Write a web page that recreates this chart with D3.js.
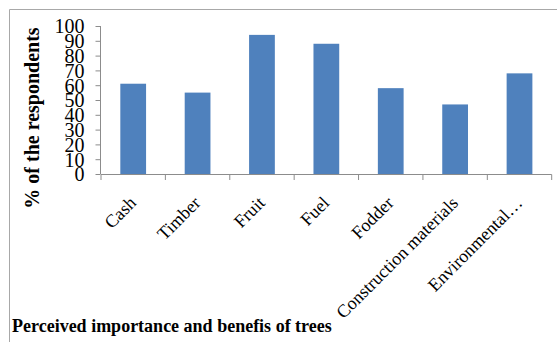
<!DOCTYPE html>
<html>
<head>
<meta charset="utf-8">
<script src="https://cdn.jsdelivr.net/npm/d3@7"></script>
<style>
  body { margin: 0; background: #fff; }
  svg { display: block; }
</style>
</head>
<body>
<div id="chart"></div>
<script>
// chart data
const categories = ["Cash", "Timber", "Fruit", "Fuel", "Fodder", "Construction materials", "Environmental…"];
const values = [61, 55, 94, 88, 58, 47, 68];
const yTicks = [0, 10, 20, 30, 40, 50, 60, 70, 80, 90, 100];

const width = 557;
const height = 342;
const margin = {left: 101, right: 5, top: 26, bottom: 168};
const serif = "Liberation Serif, Times New Roman, serif";

const svg = d3.select("#chart")
  .append("svg")
  .attr("width", width)
  .attr("height", height);

// outer frame (only top and left edges show in the picture)
svg.append("path")
  .attr("d", `M9.5,${height} V9.5 H${width}`)
  .attr("fill", "none")
  .attr("stroke", "#a8a8a8")
  .attr("stroke-width", 1);

const x = d3.scaleBand()
  .domain(d3.range(categories.length))
  .range([margin.left, 551.7])
  .paddingInner(0.6)
  .paddingOuter(0.3);

const y = d3.scaleLinear()
  .domain([0, 100])
  .range([174, 26]);

// y axis
const yAxis = svg.append("g")
  .attr("transform", `translate(${margin.left - 0.5},0)`)
  .call(d3.axisLeft(y).tickValues(yTicks).tickSize(5).tickPadding(11));
yAxis.selectAll("line, path").attr("stroke", "#8c8c8c");
yAxis.select(".domain").attr("d", `M-0,174V26`);
yAxis.selectAll("text")
  .attr("font-family", serif)
  .attr("font-size", "20px")
  .attr("dy", "0.34em")
  .attr("fill", "#000");

// x axis: ticks at category boundaries
const step = x.step();
const bounds = d3.range(categories.length + 1).map(i => margin.left + i * step);
svg.append("line")
  .attr("x1", margin.left).attr("x2", 551.7)
  .attr("y1", 174.5).attr("y2", 174.5)
  .attr("stroke", "#8c8c8c");
svg.selectAll(".xtick")
  .data(bounds)
  .enter()
  .append("line")
  .attr("class", "xtick")
  .attr("x1", d => d).attr("x2", d => d)
  .attr("y1", 174.5).attr("y2", 180)
  .attr("stroke", "#8c8c8c");

// bars
svg.selectAll(".bar")
  .data(values)
  .enter()
  .append("rect")
  .attr("class", "bar")
  .attr("x", (d, i) => x(i))
  .attr("y", d => y(d))
  .attr("width", x.bandwidth())
  .attr("height", d => 174 - y(d))
  .attr("fill", "#4f81bd");

// rotated category labels
svg.selectAll(".xlabel")
  .data(categories)
  .enter()
  .append("text")
  .attr("class", "xlabel")
  .attr("transform", (d, i) => `translate(${x(i) + x.bandwidth() / 2 + 4},${204}) rotate(-45)`)
  .attr("text-anchor", "end")
  .attr("font-family", serif)
  .attr("font-size", "18px")
  .attr("fill", "#000")
  .text(d => d);

// y axis title
svg.append("text")
  .attr("transform", "translate(39,118) rotate(-90)")
  .attr("text-anchor", "middle")
  .attr("font-family", serif)
  .attr("font-weight", "bold")
  .attr("font-size", "20px")
  .attr("fill", "#000")
  .text("% of the respondents");

// chart caption
svg.append("text")
  .attr("x", 12)
  .attr("y", 332)
  .attr("font-family", serif)
  .attr("font-weight", "bold")
  .attr("font-size", "18px")
  .attr("fill", "#000")
  .text("Perceived importance and benefis of trees");
</script>
</body>
</html>
